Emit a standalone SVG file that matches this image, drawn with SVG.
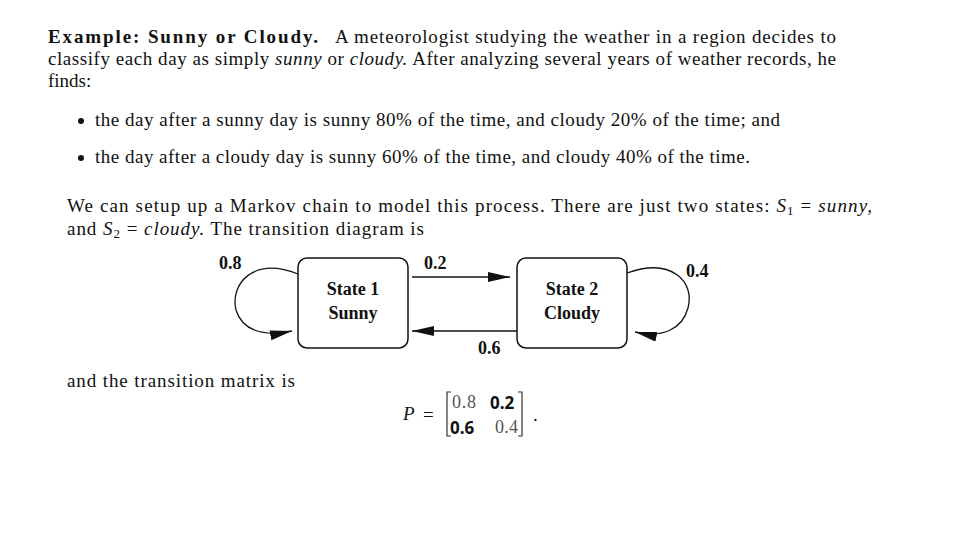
<svg xmlns="http://www.w3.org/2000/svg" width="960" height="540" viewBox="0 0 960 540">
<style>
.t{font-family:"Liberation Serif","DejaVu Serif",serif;font-size:19px;fill:#111;}
.i{font-style:italic;}
.b{font-weight:bold;}
.lbl{font-family:"Liberation Serif","DejaVu Serif",serif;font-size:18px;font-weight:bold;fill:#111;}
.node rect{fill:#fff;stroke:#111;stroke-width:1.5;}
.conn path,.conn line{fill:none;stroke:#111;stroke-width:1.3;}
.sb{font-family:"Open Sans","Liberation Sans",sans-serif;font-size:17px;font-weight:bold;fill:#111;}
.lt{font-family:"Liberation Serif","DejaVu Serif",serif;font-size:18px;fill:#555;}
</style>
<defs>
<marker id="ah" markerUnits="userSpaceOnUse" markerWidth="24" markerHeight="12" refX="22" refY="5" orient="auto">
<path d="M0,0 L22,5 L0,10 Z" fill="#111"/>
</marker>
</defs>
<rect width="960" height="540" fill="#fff"/>

<text class="t b" x="48" y="43" textLength="270" lengthAdjust="spacing">Example:  Sunny or Cloudy.</text>
<text class="t" x="335" y="43" textLength="501" lengthAdjust="spacing">A meteorologist studying the weather in a region decides to</text>
<text class="t" x="48" y="65" textLength="788" lengthAdjust="spacing">classify each day as simply <tspan class="i">sunny</tspan> or <tspan class="i">cloudy.</tspan> After analyzing several years of weather records, he</text>
<text class="t" x="48" y="87">finds:</text>

<circle cx="81" cy="121" r="3" fill="#111"/>
<text class="t" x="95" y="126" textLength="685" lengthAdjust="spacing">the day after a sunny day is sunny 80% of the time, and cloudy 20% of the time; and</text>
<circle cx="81" cy="158" r="3" fill="#111"/>
<text class="t" x="95" y="163" textLength="655" lengthAdjust="spacing">the day after a cloudy day is sunny 60% of the time, and cloudy 40% of the time.</text>

<text class="t" x="67" y="212" textLength="805" lengthAdjust="spacing">We can setup up a Markov chain to model this process.  There are just two states: <tspan class="i">S</tspan><tspan font-size="13" dy="3">1</tspan><tspan dy="-3"> = </tspan><tspan class="i">sunny,</tspan></text>
<text class="t" x="67" y="235" textLength="357" lengthAdjust="spacing">and <tspan class="i">S</tspan><tspan font-size="13" dy="3">2</tspan><tspan dy="-3"> = </tspan><tspan class="i">cloudy.</tspan> The transition diagram is</text>

<g id="connectors" class="conn">
<line x1="412" y1="277" x2="510" y2="277" marker-end="url(#ah)"/>
<line x1="517" y1="331" x2="412" y2="331" marker-end="url(#ah)"/>
<path d="M298,274 C252,256 230,285 236,310 C242,330 262,337 292,331" marker-end="url(#ah)"/>
<path d="M627,273 C672,257 695,282 688,308 C682,330 662,338 635,332" marker-end="url(#ah)"/>
<text class="lbl" x="219" y="269">0.8</text>
<text class="lbl" x="424" y="269">0.2</text>
<text class="lbl" x="478" y="354">0.6</text>
<text class="lbl" x="686" y="277">0.4</text>
</g>

<g id="state1" class="node">
<rect x="298" y="258" width="110" height="90" rx="9"/>
<text class="lbl" x="353" y="295" text-anchor="middle">State 1</text>
<text class="lbl" x="353" y="319" text-anchor="middle">Sunny</text>
</g>
<g id="state2" class="node">
<rect x="517" y="258" width="110" height="90" rx="9"/>
<text class="lbl" x="572" y="295" text-anchor="middle">State 2</text>
<text class="lbl" x="572" y="319" text-anchor="middle">Cloudy</text>
</g>

<text class="t" x="67" y="387" textLength="228" lengthAdjust="spacing">and the transition matrix is</text>

<text class="t i" x="403" y="420" font-size="21">P</text>
<text class="t" x="423" y="421" font-size="25">=</text>
<path d="M451,392 L447,392 L447,436 L451,436" fill="none" stroke="#333" stroke-width="1.2"/>
<path d="M518,392 L522,392 L522,436 L518,436" fill="none" stroke="#333" stroke-width="1.2"/>
<text class="lt" x="452" y="408" textLength="24" lengthAdjust="spacing">0.8</text>
<text class="sb" x="490" y="409">0.2</text>
<text class="sb" x="450" y="434">0.6</text>
<text class="lt" x="495" y="433" textLength="23" lengthAdjust="spacing">0.4</text>
<text class="t" x="533" y="421">.</text>
</svg>
